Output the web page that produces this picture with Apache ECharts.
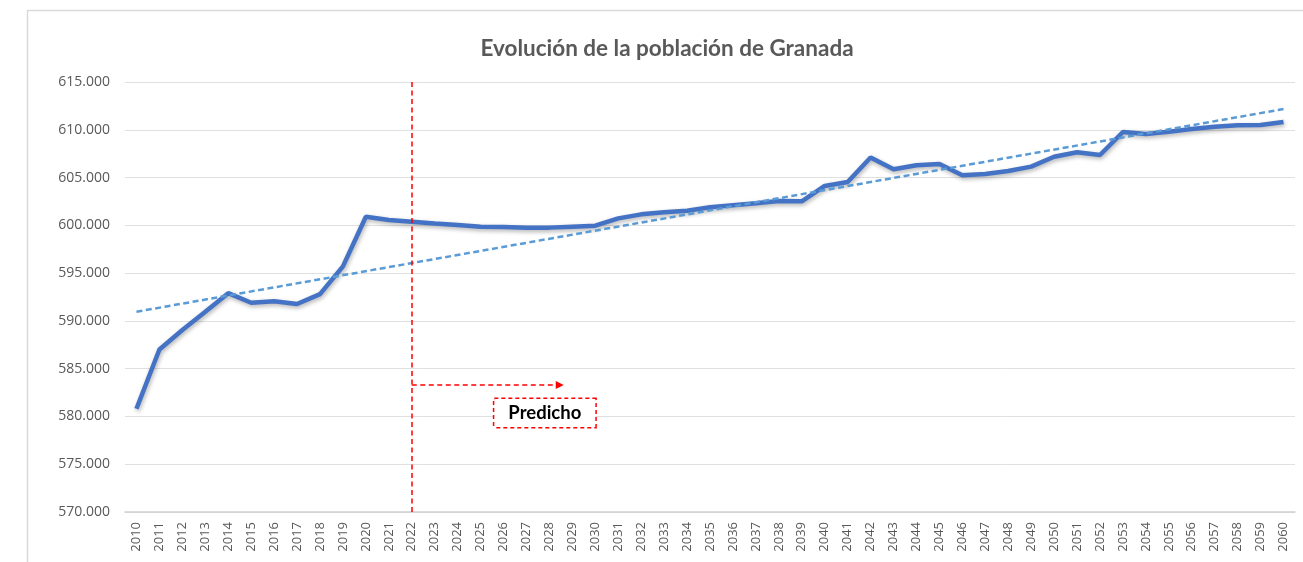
<!DOCTYPE html>
<html>
<head>
<meta charset="utf-8">
<script src="https://cdn.jsdelivr.net/npm/echarts@6/dist/echarts.min.js"></script>
<style>
html,body{margin:0;padding:0;background:#fff;}
#chart{width:1303px;height:562px;}
</style>
</head>
<body>
<div id="chart"></div>
<script>
const years = ['2010','2011','2012','2013','2014','2015','2016','2017','2018','2019',
  '2020','2021','2022','2023','2024','2025','2026','2027','2028','2029',
  '2030','2031','2032','2033','2034','2035','2036','2037','2038','2039',
  '2040','2041','2042','2043','2044','2045','2046','2047','2048','2049',
  '2050','2051','2052','2053','2054','2055','2056','2057','2058','2059','2060'];

const population = [580800, 587000, 589050, 590960, 592900, 591900, 592050, 591770, 592800, 595700,
  600900, 600560, 600380, 600200, 600030, 599860, 599830, 599760, 599760, 599860,
  599960, 600730, 601150, 601360, 601530, 601890, 602100, 602300, 602550, 602510,
  604120, 604530, 607100, 605860, 606280, 606420, 605240, 605370, 605690, 606140,
  607180, 607640, 607360, 609770, 609560, 609800, 610080, 610320, 610470, 610500,
  610810];

// trend line endpoints (2010, 2060)
const trendYears = ['2010', '2060'];
const trendValues = [590960, 612170];

// annotation: start of prediction
const predictionYearIndex = [12];          // 2022
const arrowX = [12, 18.45];                // category index positions
const arrowValue = [583300];
const labelPos = [17.8, 580350];
const labelText = ['Predicho'];

const yTicks = { min: 570000, max: 615000, interval: 5000 };

const chart = echarts.init(document.getElementById('chart'));
const option = {
  backgroundColor: '#ffffff',
  animation: false,
  graphic: [{
    type: 'rect', left: 25, top: 8, shape: { width: 1300, height: 600 },
    style: { fill: 'none', stroke: '#d9d9d9', lineWidth: 1.5 }, silent: true, z: -1
  }],
  title: {
    text: 'Evolución de la población de Granada',
    left: 662, top: 32, textAlign: 'center',
    textStyle: { fontFamily: 'Lato', fontWeight: 'bold', fontSize: 22.5, color: '#595959' }
  },
  grid: { left: 125, right: 8, top: 82, bottom: 50, containLabel: false },
  xAxis: [{
    type: 'category', data: years, boundaryGap: true,
    axisLine: { lineStyle: { color: '#d0d0d0', width: 1.5 } },
    axisTick: { show: false },
    axisLabel: { rotate: 90, interval: 0, margin: 10, color: '#595959', fontFamily: 'Open Sans', fontSize: 13 }
  }, {
    type: 'value', min: -0.5, max: 50.5, show: false
  }],
  yAxis: {
    type: 'value', min: yTicks.min, max: yTicks.max, interval: yTicks.interval,
    axisLine: { show: false }, axisTick: { show: false },
    splitLine: { lineStyle: { color: '#e0e0e0', width: 1 } },
    axisLabel: {
      margin: 15, color: '#595959', fontFamily: 'Open Sans', fontSize: 14,
      formatter: v => (v / 1000).toFixed(3)
    }
  },
  series: [{
    type: 'line', data: population, symbol: 'none', z: 3,
    lineStyle: { color: '#4472C4', width: 4.5, shadowBlur: 4, shadowColor: 'rgba(0,0,0,0.3)', shadowOffsetY: 2, shadowOffsetX: 1 },
    markLine: {
      silent: true, symbol: 'none', label: { show: false }, animation: false,
      lineStyle: { color: '#5B9BD5', width: 2.5, type: [6, 3.5] },
      data: [[{ coord: [trendYears[0], trendValues[0]] }, { coord: [trendYears[1], trendValues[1]] }]]
    }
  }, {
    type: 'line', xAxisIndex: 1, data: [], symbol: 'none', z: 4,
    markLine: {
      silent: true, label: { show: false }, animation: false,
      data: [
        [{ coord: [predictionYearIndex[0], yTicks.max], symbol: 'none' },
         { coord: [predictionYearIndex[0], yTicks.min], symbol: 'none' }],
        [{ coord: [arrowX[0], arrowValue[0]], symbol: 'none' },
         { coord: [arrowX[1], arrowValue[0]], symbol: 'triangle', symbolSize: [8, 8], symbolRotate: -90 }]
      ],
      lineStyle: { color: '#ff0000', width: 1.5, type: [5, 3.5] }
    },
    markPoint: {
      silent: true, animation: false, symbol: 'rect', symbolSize: 0,
      data: [{ coord: labelPos, value: labelText[0] }],
      label: {
        show: true, position: 'inside', formatter: labelText[0],
        fontFamily: 'Lato', fontWeight: 'bold', fontSize: 18.5, color: '#000',
        backgroundColor: '#fff', borderColor: '#ff0000', borderWidth: 1.5, borderType: [4, 3],
        padding: [5, 14, 4, 14]
      }
    }
  }]
};
chart.setOption(option);
</script>
</body>
</html>
